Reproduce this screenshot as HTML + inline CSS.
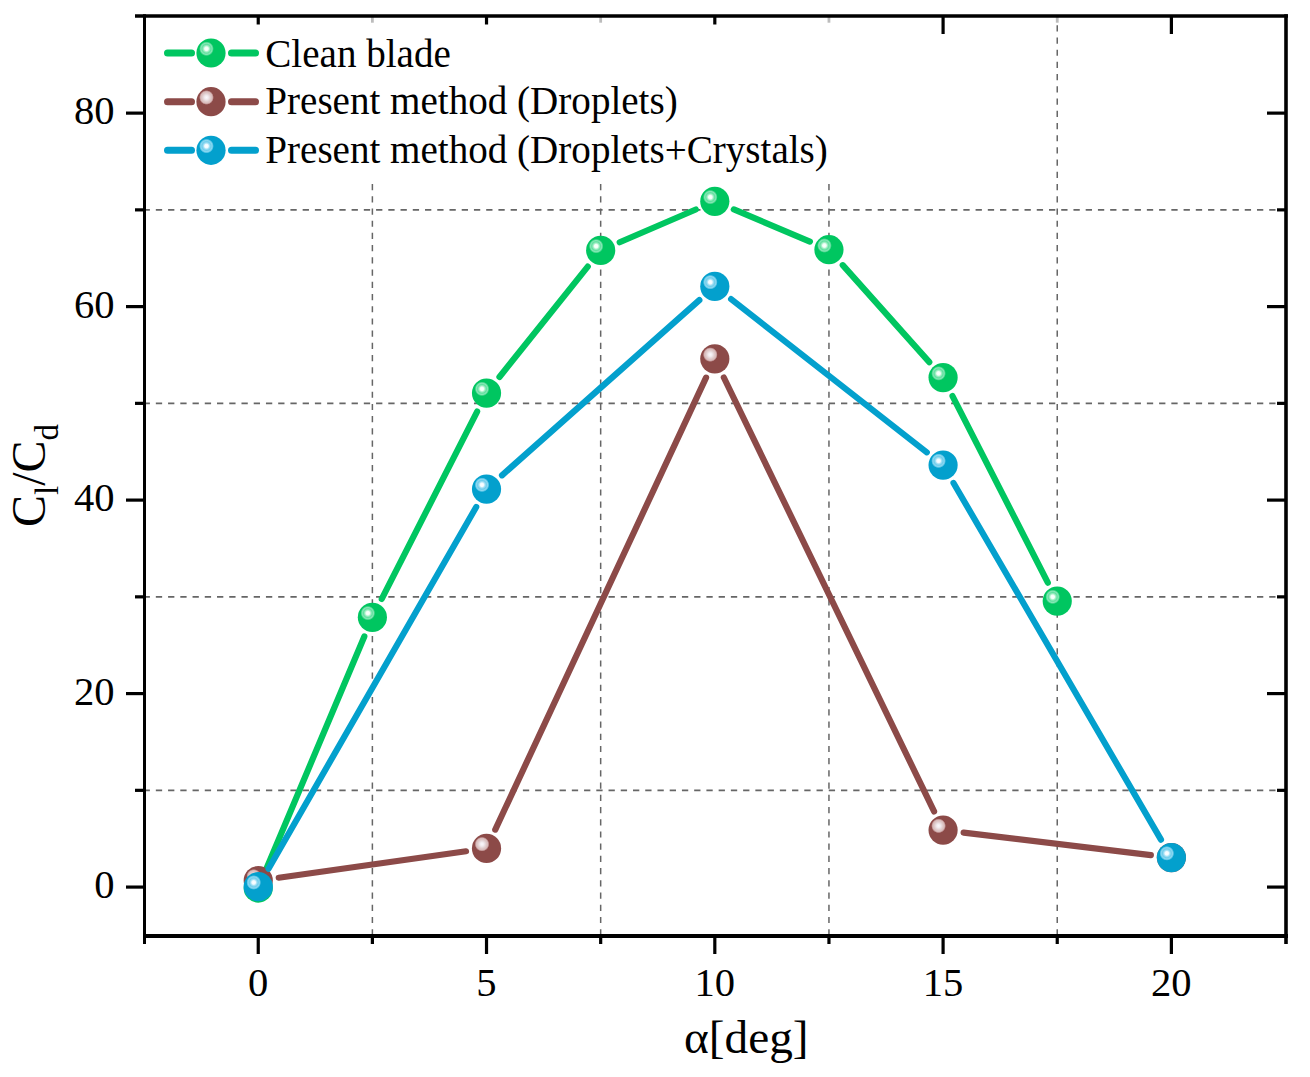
<!DOCTYPE html>
<html><head><meta charset="utf-8">
<style>
html,body{margin:0;padding:0;background:#fff;}
svg{display:block;}
text{font-family:"Liberation Serif",serif;fill:#000;}
.tl{font-size:40.6px;}
.lg{font-size:39.1px;}
.g{stroke:#666;stroke-width:1.8;}
.gh{stroke-dasharray:6.3 5.935;stroke-dashoffset:0.4;}
.gv{stroke-dasharray:6.2 6.015;stroke-width:1.5;}
.tk{stroke:#000;stroke-width:3.2;}
.tkl{stroke:#bcbcbc;stroke-width:2.8;}
</style></head>
<body>
<svg width="1310" height="1077" viewBox="0 0 1310 1077">
<defs>
<radialGradient id="gg" cx="0.345" cy="0.355" r="0.25" fx="0.345" fy="0.355">
<stop offset="0" stop-color="#ffffff"/>
<stop offset="0.25" stop-color="#f0fff6"/>
<stop offset="0.4" stop-color="#a8f0c8"/>
<stop offset="0.6" stop-color="#62e0a0"/>
<stop offset="0.78" stop-color="#86e8b6"/>
<stop offset="0.9" stop-color="#40d488"/>
<stop offset="1" stop-color="#00c660"/>
</radialGradient>
<radialGradient id="gb" cx="0.345" cy="0.355" r="0.25" fx="0.345" fy="0.355">
<stop offset="0" stop-color="#fbf8fb"/>
<stop offset="0.25" stop-color="#f2ecf0"/>
<stop offset="0.45" stop-color="#e6d8da"/>
<stop offset="0.65" stop-color="#dcc4c4"/>
<stop offset="0.8" stop-color="#d8baba"/>
<stop offset="0.92" stop-color="#b48080"/>
<stop offset="1" stop-color="#8c4a48"/>
</radialGradient>
<radialGradient id="gu" cx="0.345" cy="0.355" r="0.25" fx="0.345" fy="0.355">
<stop offset="0" stop-color="#ffffff"/>
<stop offset="0.25" stop-color="#f0faff"/>
<stop offset="0.4" stop-color="#a8e2f5"/>
<stop offset="0.6" stop-color="#70cdec"/>
<stop offset="0.78" stop-color="#8cd8f0"/>
<stop offset="0.9" stop-color="#50c0e4"/>
<stop offset="1" stop-color="#03a0cd"/>
</radialGradient>
</defs>
<rect width="1310" height="1077" fill="#fff"/>
<line x1="372.38" y1="25.215" x2="372.38" y2="936" class="g gv"/>
<line x1="600.67" y1="25.215" x2="600.67" y2="936" class="g gv"/>
<line x1="828.95" y1="25.215" x2="828.95" y2="936" class="g gv"/>
<line x1="1057.24" y1="25.215" x2="1057.24" y2="936" class="g gv"/>
<line x1="144" y1="790.34" x2="1286" y2="790.34" class="g gh"/>
<line x1="144" y1="596.85" x2="1286" y2="596.85" class="g gh"/>
<line x1="144" y1="403.36" x2="1286" y2="403.36" class="g gh"/>
<line x1="144" y1="209.87" x2="1286" y2="209.87" class="g gh"/>
<line x1="258.24" y1="936" x2="258.24" y2="954" class="tk"/>
<line x1="258.24" y1="16" x2="258.24" y2="34" class="tk"/>
<line x1="486.52" y1="936" x2="486.52" y2="954" class="tk"/>
<line x1="486.52" y1="16" x2="486.52" y2="34" class="tk"/>
<line x1="714.81" y1="936" x2="714.81" y2="954" class="tk"/>
<line x1="714.81" y1="16" x2="714.81" y2="34" class="tk"/>
<line x1="943.09" y1="936" x2="943.09" y2="954" class="tk"/>
<line x1="943.09" y1="16" x2="943.09" y2="34" class="tk"/>
<line x1="1171.38" y1="936" x2="1171.38" y2="954" class="tk"/>
<line x1="1171.38" y1="16" x2="1171.38" y2="34" class="tk"/>
<line x1="372.38" y1="936" x2="372.38" y2="944" class="tk"/>
<line x1="372.38" y1="17" x2="372.38" y2="22.7" class="tkl"/>
<line x1="600.67" y1="936" x2="600.67" y2="944" class="tk"/>
<line x1="600.67" y1="17" x2="600.67" y2="22.7" class="tkl"/>
<line x1="828.95" y1="936" x2="828.95" y2="944" class="tk"/>
<line x1="828.95" y1="17" x2="828.95" y2="22.7" class="tkl"/>
<line x1="1057.24" y1="936" x2="1057.24" y2="944" class="tk"/>
<line x1="1057.24" y1="17" x2="1057.24" y2="22.7" class="tkl"/>
<line x1="126" y1="887.08" x2="144" y2="887.08" class="tk"/>
<line x1="1286" y1="887.08" x2="1267" y2="887.08" class="tk"/>
<line x1="126" y1="693.59" x2="144" y2="693.59" class="tk"/>
<line x1="1286" y1="693.59" x2="1267" y2="693.59" class="tk"/>
<line x1="126" y1="500.10" x2="144" y2="500.10" class="tk"/>
<line x1="1286" y1="500.10" x2="1267" y2="500.10" class="tk"/>
<line x1="126" y1="306.61" x2="144" y2="306.61" class="tk"/>
<line x1="1286" y1="306.61" x2="1267" y2="306.61" class="tk"/>
<line x1="126" y1="113.12" x2="144" y2="113.12" class="tk"/>
<line x1="1286" y1="113.12" x2="1267" y2="113.12" class="tk"/>
<line x1="135" y1="790.34" x2="144" y2="790.34" class="tk"/>
<line x1="1286" y1="790.34" x2="1277" y2="790.34" class="tk"/>
<line x1="135" y1="596.85" x2="144" y2="596.85" class="tk"/>
<line x1="1286" y1="596.85" x2="1277" y2="596.85" class="tk"/>
<line x1="135" y1="403.36" x2="144" y2="403.36" class="tk"/>
<line x1="1286" y1="403.36" x2="1277" y2="403.36" class="tk"/>
<line x1="135" y1="209.87" x2="144" y2="209.87" class="tk"/>
<line x1="1286" y1="209.87" x2="1277" y2="209.87" class="tk"/>
<!-- legend box -->
<rect x="147" y="24.5" width="700" height="159" fill="#fff"/>
<!-- frame -->
<line x1="135" y1="16" x2="1288" y2="16" stroke="#000" stroke-width="3.6"/>
<line x1="144.5" y1="14.2" x2="144.5" y2="944" stroke="#000" stroke-width="3"/>
<line x1="1286" y1="14.2" x2="1286" y2="944" stroke="#000" stroke-width="3.6"/>
<line x1="143" y1="936" x2="1288" y2="936" stroke="#000" stroke-width="4"/>
<!-- data -->
<line x1="266.28" y1="868.97" x2="364.34" y2="636.43" stroke="#00c660" stroke-width="6.2" stroke-linecap="round"/>
<line x1="381.77" y1="598.91" x2="477.14" y2="411.55" stroke="#00c660" stroke-width="6.2" stroke-linecap="round"/>
<line x1="499.46" y1="376.94" x2="587.74" y2="266.57" stroke="#00c660" stroke-width="6.2" stroke-linecap="round"/>
<line x1="619.69" y1="242.23" x2="695.79" y2="209.52" stroke="#00c660" stroke-width="6.2" stroke-linecap="round"/>
<line x1="733.87" y1="209.43" x2="809.89" y2="241.65" stroke="#00c660" stroke-width="6.2" stroke-linecap="round"/>
<line x1="842.74" y1="265.17" x2="929.31" y2="362.18" stroke="#00c660" stroke-width="6.2" stroke-linecap="round"/>
<line x1="952.51" y1="396.06" x2="1047.82" y2="582.67" stroke="#00c660" stroke-width="6.2" stroke-linecap="round"/>
<circle cx="258.24" cy="888.05" r="14.6" fill="url(#gg)"/>
<circle cx="372.38" cy="617.35" r="14.6" fill="url(#gg)"/>
<circle cx="486.52" cy="393.10" r="14.6" fill="url(#gg)"/>
<circle cx="600.67" cy="250.40" r="14.6" fill="url(#gg)"/>
<circle cx="714.81" cy="201.35" r="14.6" fill="url(#gg)"/>
<circle cx="828.95" cy="249.72" r="14.6" fill="url(#gg)"/>
<circle cx="943.09" cy="377.62" r="14.6" fill="url(#gg)"/>
<circle cx="1057.24" cy="601.10" r="14.6" fill="url(#gg)"/>
<line x1="278.74" y1="877.71" x2="466.03" y2="851.27" stroke="#8c4a48" stroke-width="6.2" stroke-linecap="round"/>
<line x1="495.27" y1="829.62" x2="706.06" y2="377.61" stroke="#8c4a48" stroke-width="6.2" stroke-linecap="round"/>
<line x1="723.83" y1="377.48" x2="934.07" y2="811.47" stroke="#8c4a48" stroke-width="6.2" stroke-linecap="round"/>
<line x1="963.65" y1="832.57" x2="1150.83" y2="855.10" stroke="#8c4a48" stroke-width="6.2" stroke-linecap="round"/>
<circle cx="258.24" cy="880.60" r="14.6" fill="url(#gb)"/>
<circle cx="486.52" cy="848.38" r="14.6" fill="url(#gb)"/>
<circle cx="714.81" cy="358.85" r="14.6" fill="url(#gb)"/>
<circle cx="943.09" cy="830.10" r="14.6" fill="url(#gb)"/>
<circle cx="1171.38" cy="857.57" r="14.6" fill="url(#gb)"/>
<line x1="268.55" y1="868.74" x2="476.22" y2="507.02" stroke="#03a0cd" stroke-width="6.2" stroke-linecap="round"/>
<line x1="502.00" y1="475.33" x2="699.33" y2="300.13" stroke="#03a0cd" stroke-width="6.2" stroke-linecap="round"/>
<line x1="731.11" y1="299.15" x2="926.79" y2="452.32" stroke="#03a0cd" stroke-width="6.2" stroke-linecap="round"/>
<line x1="953.50" y1="482.97" x2="1160.97" y2="839.68" stroke="#03a0cd" stroke-width="6.2" stroke-linecap="round"/>
<circle cx="258.24" cy="886.69" r="14.6" fill="url(#gu)"/>
<circle cx="486.52" cy="489.07" r="14.6" fill="url(#gu)"/>
<circle cx="714.81" cy="286.39" r="14.6" fill="url(#gu)"/>
<circle cx="943.09" cy="465.08" r="14.6" fill="url(#gu)"/>
<circle cx="1171.38" cy="857.57" r="14.6" fill="url(#gu)"/>
<!-- legend -->
<line x1="167.5" y1="53" x2="191.5" y2="53" stroke="#00c660" stroke-width="7" stroke-linecap="round"/>
<line x1="231.5" y1="53" x2="255.5" y2="53" stroke="#00c660" stroke-width="7" stroke-linecap="round"/>
<circle cx="211" cy="53" r="14.6" fill="url(#gg)"/>
<text x="265.3" y="67" class="lg">Clean blade</text>
<line x1="167.5" y1="101.7" x2="191.5" y2="101.7" stroke="#8c4a48" stroke-width="7" stroke-linecap="round"/>
<line x1="231.5" y1="101.7" x2="255.5" y2="101.7" stroke="#8c4a48" stroke-width="7" stroke-linecap="round"/>
<circle cx="211" cy="101.7" r="14.6" fill="url(#gb)"/>
<text x="265.3" y="113.9" class="lg">Present method (Droplets)</text>
<line x1="167.5" y1="150.3" x2="191.5" y2="150.3" stroke="#03a0cd" stroke-width="7" stroke-linecap="round"/>
<line x1="231.5" y1="150.3" x2="255.5" y2="150.3" stroke="#03a0cd" stroke-width="7" stroke-linecap="round"/>
<circle cx="211" cy="150.3" r="14.6" fill="url(#gu)"/>
<text x="265.3" y="162.7" class="lg">Present method (Droplets+Crystals)</text>
<!-- labels -->
<text x="258.24" y="996" text-anchor="middle" class="tl">0</text>
<text x="486.52" y="996" text-anchor="middle" class="tl">5</text>
<text x="714.81" y="996" text-anchor="middle" class="tl">10</text>
<text x="943.09" y="996" text-anchor="middle" class="tl">15</text>
<text x="1171.38" y="996" text-anchor="middle" class="tl">20</text>
<text x="114.5" y="898.08" text-anchor="end" class="tl">0</text>
<text x="114.5" y="704.59" text-anchor="end" class="tl">20</text>
<text x="114.5" y="511.10" text-anchor="end" class="tl">40</text>
<text x="114.5" y="317.61" text-anchor="end" class="tl">60</text>
<text x="114.5" y="124.12" text-anchor="end" class="tl">80</text>
<text x="684" y="1052.5" style="font-size:47.3px">α[deg]</text>
<text transform="translate(44.5,527) rotate(-90)" style="font-size:48px">C<tspan dy="13" style="font-size:33px">l</tspan><tspan dy="-13">/C</tspan><tspan dy="13" style="font-size:33px">d</tspan></text>
</svg>
</body></html>
